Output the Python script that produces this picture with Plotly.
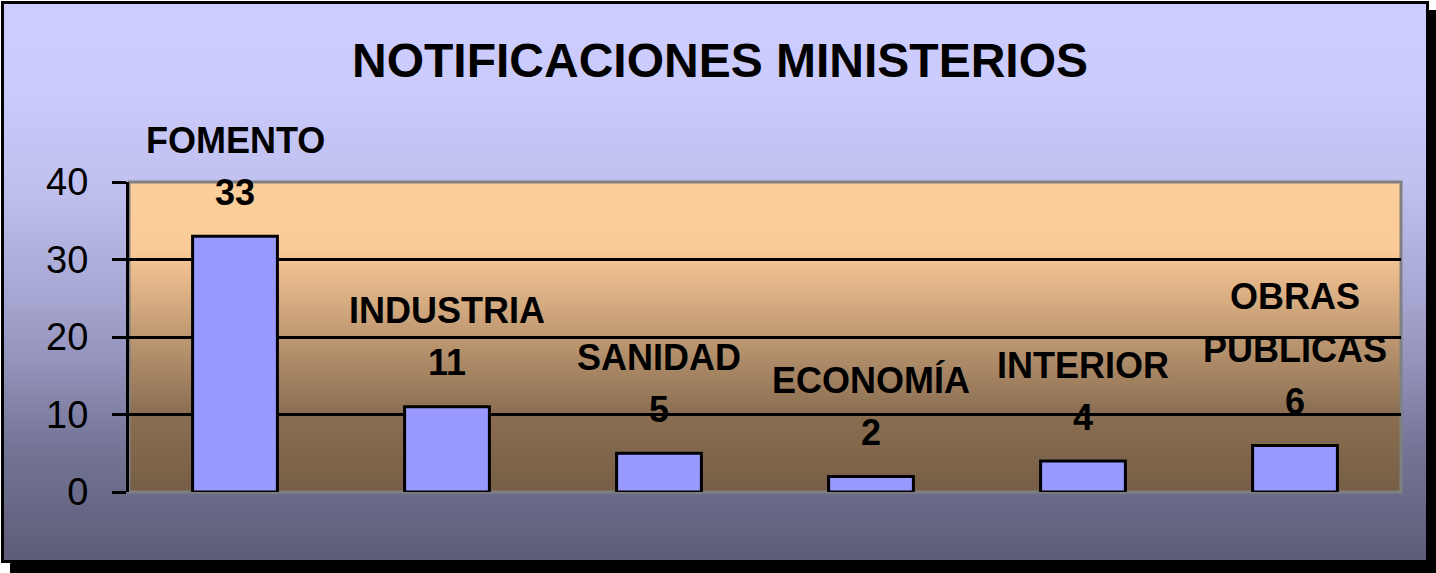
import plotly.graph_objects as go

# ---- data ----
categories = ["FOMENTO", "INDUSTRIA", "SANIDAD", "ECONOMÍA", "INTERIOR", "OBRAS PUBLICAS"]
values = [33, 11, 5, 2, 4, 6]
y_ticks = [0, 10, 20, 30, 40]
title_text = "NOTIFICACIONES MINISTERIOS"

W, H = 1436, 573
FONT = "Liberation Sans, Arial, sans-serif"


def px_x(p):
    return p / W


def px_y(p):
    return 1 - p / H


def lerp(stops, t):
    for i in range(len(stops) - 1):
        t0, c0 = stops[i]
        t1, c1 = stops[i + 1]
        if t <= t1:
            f = 0 if t1 == t0 else (t - t0) / (t1 - t0)
            return tuple(int(round(c0[k] + (c1[k] - c0[k]) * f)) for k in range(3))
    return stops[-1][1]


outer_stops = [(0.0, (204, 204, 255)), (0.15, (203, 203, 252)), (0.32, (193, 193, 240)),
               (0.5, (170, 170, 215)), (0.65, (146, 146, 186)), (0.8, (116, 116, 150)),
               (1.0, (93, 93, 120))]
plot_stops = [(0.0, (252, 206, 154)), (0.22, (250, 203, 152)), (0.3, (232, 186, 140)),
              (0.5, (190, 152, 114)), (0.75, (138, 110, 82)), (1.0, (118, 94, 70))]

shapes = []
# drop shadow
shapes.append(dict(type="rect", xref="paper", yref="paper", layer="below",
                   x0=px_x(10), x1=px_x(1436), y0=px_y(573), y1=px_y(10),
                   fillcolor="black", line=dict(width=0)))
# outer gradient
top, bot = 3, 561
N = 140
for i in range(N):
    a = top + (bot - top) * i / N
    b = top + (bot - top) * (i + 1) / N + 1.0
    c = lerp(outer_stops, (i + 0.5) / N)
    shapes.append(dict(type="rect", xref="paper", yref="paper", layer="below",
                       x0=px_x(3), x1=px_x(1427), y0=px_y(min(b, bot)), y1=px_y(a),
                       fillcolor="rgb(%d,%d,%d)" % c, line=dict(width=0)))
# outer border
shapes.append(dict(type="rect", xref="paper", yref="paper", layer="below",
                   x0=px_x(2.5), x1=px_x(1427.5), y0=px_y(561.5), y1=px_y(2.5),
                   fillcolor="rgba(0,0,0,0)", line=dict(color="black", width=3)))
# plot area gradient
M = 100
for i in range(M):
    a = 1 - i / M
    b = 1 - (i + 1) / M - 0.004
    c = lerp(plot_stops, (i + 0.5) / M)
    shapes.append(dict(type="rect", xref="x domain", yref="y domain", layer="below",
                       x0=0, x1=1, y0=max(b, 0), y1=a,
                       fillcolor="rgb(%d,%d,%d)" % c, line=dict(width=0)))
# gray plot border
shapes.append(dict(type="rect", xref="x domain", yref="y domain", layer="below",
                   x0=0, x1=1, y0=0, y1=1, fillcolor="rgba(0,0,0,0)",
                   line=dict(color="#808080", width=3)))

fig = go.Figure()
fig.add_trace(go.Bar(
    x=categories, y=values, width=0.4,
    marker=dict(color="#9999FF", line=dict(color="black", width=3)),
    hoverinfo="x+y",
))

annotations = [dict(text="<b>%s</b>" % title_text, xref="paper", yref="paper",
                    x=px_x(720), y=px_y(60), xanchor="center", yanchor="middle",
                    showarrow=False, font=dict(family=FONT, size=48, color="black"))]
LINE = 53
for cat, v in zip(categories, values):
    annotations.append(dict(text="<b>%d</b>" % v, x=cat, y=v, xref="x", yref="y",
                            yshift=44, xanchor="center", yanchor="middle", showarrow=False,
                            font=dict(family=FONT, size=36, color="black")))
    lines = cat.split(" ") if len(cat) > 10 else [cat]
    for j, ln in enumerate(reversed(lines)):
        annotations.append(dict(text="<b>%s</b>" % ln, x=cat, y=v, xref="x", yref="y",
                                yshift=96 + j * LINE, xanchor="center", yanchor="middle",
                                showarrow=False,
                                font=dict(family=FONT, size=36, color="black")))

fig.update_layout(
    width=W, height=H, autosize=False,
    margin=dict(l=0, r=0, t=0, b=0, pad=0, autoexpand=False),
    paper_bgcolor="white", plot_bgcolor="rgba(0,0,0,0)",
    showlegend=False, bargap=0.6,
    shapes=shapes, annotations=annotations,
    xaxis=dict(domain=[px_x(129), px_x(1401)], type="category", range=[-0.5, 5.5],
               showticklabels=False, showgrid=False, showline=False, zeroline=False,
               ticks="", automargin=False),
    yaxis=dict(domain=[px_y(492), px_y(182)], range=[0, 40], tickvals=y_ticks,
               showgrid=True, gridcolor="black", gridwidth=2.5, zeroline=False,
               showline=True, linecolor="black", linewidth=3,
               ticks="outside", ticklen=14, tickwidth=3, tickcolor="black",
               ticklabelstandoff=16, automargin=False,
               tickfont=dict(family=FONT, size=38, color="black")),
)

fig.write_html("out.html", config={"displayModeBar": False},
               post_script="document.body.style.margin='0';document.body.style.overflow='hidden';")
